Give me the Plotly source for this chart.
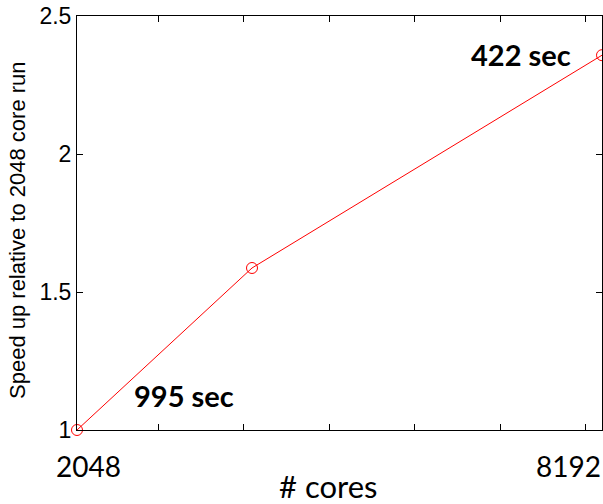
import plotly.graph_objects as go

# Strong-scaling data: core counts and speed-up relative to the 2048-core run
cores = [2048, 4096, 8192]
speedup = [1.0, 1.587, 2.358]

x_minor_ticks = [3000, 4000, 5000, 6000, 7000, 8000]
y_ticks = [1, 1.5, 2, 2.5]
y_tick_text = ["1", "1.5", "2", "2.5"]
x_label_text = ["2048", "8192"]
time_labels = ["995 sec", "422 sec"]

W, H = 603, 504
L, R, T, B = 77, 1, 16, 74
plot_w = W - L - R
plot_h = H - T - B


def px_x(p):
    return (p - L) / plot_w


def px_y(p):
    return (H - B - p) / plot_h


fig = go.Figure()
fig.add_trace(go.Scatter(
    x=cores, y=speedup,
    mode="lines+markers",
    line=dict(color="#ff0000", width=1),
    marker=dict(symbol="circle-open", size=11, color="#ff0000",
                line=dict(width=1, color="#ff0000")),
    cliponaxis=False,
    showlegend=False,
))

axis_common = dict(
    showline=True, linecolor="black", linewidth=1, mirror="ticks",
    ticks="inside", ticklen=6, tickcolor="black", tickwidth=1,
    showgrid=False, zeroline=False,
)

fig.update_xaxes(
    range=[2048, 8192], tickvals=x_minor_ticks, showticklabels=False,
    **axis_common,
)
fig.update_yaxes(
    range=[1, 2.5], tickvals=y_ticks, ticktext=y_tick_text,
    tickfont=dict(family="Liberation Sans, Arial", size=23, color="black"),
    **axis_common,
)

annotations = [
    # x tick labels
    dict(x=px_x(88), y=px_y(465.5), text=x_label_text[0],
         font=dict(family="Lato", size=28, color="black")),
    dict(x=px_x(568), y=px_y(465.5), text=x_label_text[1],
         font=dict(family="Lato", size=28, color="black")),
    # x axis title
    dict(x=px_x(328), y=px_y(486), text="# cores",
         font=dict(family="Lato", size=31, color="black")),
    # y axis title
    dict(x=px_x(17), y=px_y(230), text="Speed up relative to 2048 core run",
         textangle=-90,
         font=dict(family="Liberation Sans, Arial", size=22, color="black")),
    # run-time labels
    dict(x=px_x(184), y=px_y(395), text="<b>%s</b>" % time_labels[0],
         font=dict(family="Lato", size=29, color="black")),
    dict(x=px_x(521), y=px_y(55), text="<b>%s</b>" % time_labels[1],
         font=dict(family="Lato", size=29, color="black")),
]
for a in annotations:
    a.update(xref="paper", yref="paper", showarrow=False,
             xanchor="center", yanchor="middle")

fig.update_layout(
    width=W, height=H,
    margin=dict(l=L, r=R, t=T, b=B),
    paper_bgcolor="white", plot_bgcolor="white",
    annotations=annotations,
)

fig.write_html("out.html")
